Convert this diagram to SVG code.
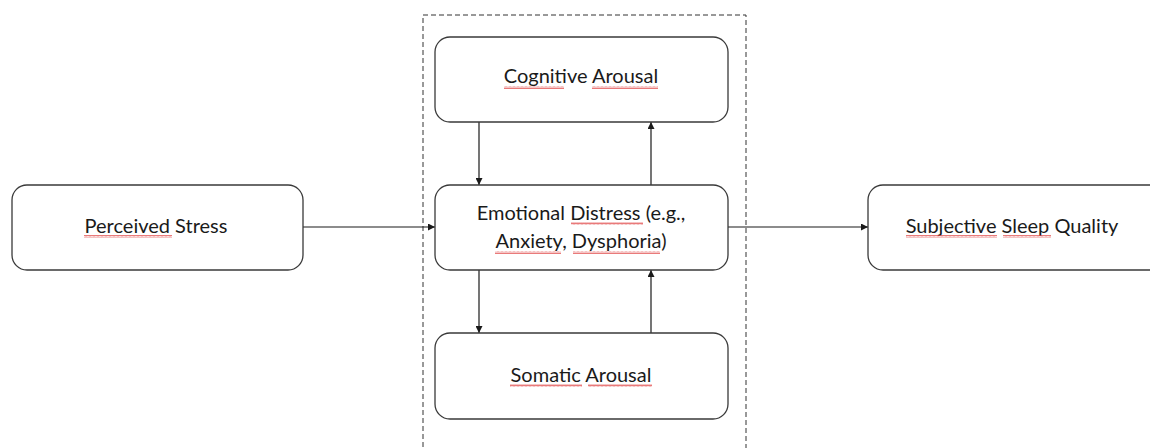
<svg xmlns="http://www.w3.org/2000/svg" width="1150" height="448" viewBox="0 0 1150 448">
<style>
.box{fill:#fff;stroke:#3a3a3a;stroke-width:1.3}
.lbl{font-family:Lato,"Open Sans",sans-serif;font-size:20px;fill:#1a1a1a;text-anchor:middle}
.con{stroke:#1a1a1a;stroke-width:1.2;fill:none}
.sq{fill:url(#wave)}
</style>
<defs>
<marker id="ah" viewBox="0 0 10 10" refX="10" refY="5" markerWidth="7" markerHeight="7" orient="auto-start-reverse" markerUnits="userSpaceOnUse">
<path d="M0,0 L10,5 L0,10 z" fill="#1a1a1a"/>
</marker>
<pattern id="wave" width="4" height="3" patternUnits="userSpaceOnUse">
<path d="M0,2.5 L1,0.5 L2,2.5 L3,0.5 L4,2.5" stroke="#e04040" stroke-width="0.7" fill="none"/>
</pattern>
</defs>
<rect x="423" y="15" width="323" height="445" fill="none" stroke="#333" stroke-width="1" stroke-dasharray="5,3"/>
<g id="connectors">
<line class="con" x1="303" y1="227" x2="435" y2="227" marker-end="url(#ah)"/>
<line class="con" x1="728" y1="227" x2="868" y2="227" marker-end="url(#ah)"/>
<line class="con" x1="479" y1="122" x2="479" y2="185" marker-end="url(#ah)"/>
<line class="con" x1="651" y1="185" x2="651" y2="122" marker-end="url(#ah)"/>
<line class="con" x1="479" y1="270" x2="479" y2="333" marker-end="url(#ah)"/>
<line class="con" x1="651" y1="333" x2="651" y2="270" marker-end="url(#ah)"/>
</g>
<g id="perceived">
<rect class="box" x="12" y="185" width="291" height="85" rx="15"/>
<text class="lbl" x="156" y="233">Perceived Stress</text>
<rect class="sq" x="84" y="235" width="88" height="3"/>
</g>
<g id="cognitive">
<rect class="box" x="435" y="37" width="293" height="85" rx="15"/>
<text class="lbl" x="581" y="83">Cognitive Arousal</text>
<rect class="sq" x="504" y="86" width="60" height="3"/>
<rect class="sq" x="592" y="86" width="66" height="3"/>
</g>
<g id="emotional">
<rect class="box" x="435" y="185" width="293" height="85" rx="15"/>
<text class="lbl" x="581" y="220">Emotional Distress (e.g.,</text>
<text class="lbl" x="581" y="248">Anxiety, Dysphoria)</text>
<rect class="sq" x="571" y="222" width="72" height="3"/>
<rect class="sq" x="495" y="251" width="66" height="3"/>
<rect class="sq" x="573" y="251" width="87" height="3"/>
</g>
<g id="somatic">
<rect class="box" x="435" y="333" width="293" height="86" rx="15"/>
<text class="lbl" x="581" y="382">Somatic Arousal</text>
<rect class="sq" x="510" y="384" width="72" height="3"/>
<rect class="sq" x="588" y="384" width="64" height="3"/>
</g>
<g id="subjective">
<rect class="box" x="868" y="185" width="300" height="85" rx="15"/>
<text class="lbl" x="1012" y="233">Subjective Sleep Quality</text>
<rect class="sq" x="906" y="235" width="91" height="3"/>
<rect class="sq" x="1003" y="235" width="48" height="3"/>
</g>
</svg>
